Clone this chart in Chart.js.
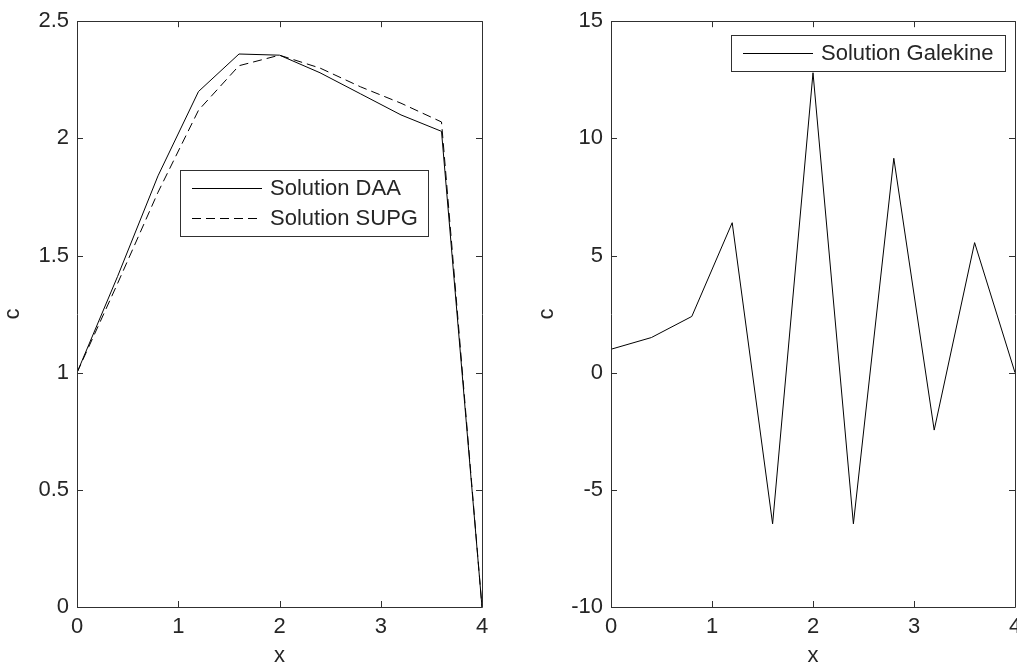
<!DOCTYPE html>
<html>
<head>
<meta charset="utf-8">
<script src="https://cdn.jsdelivr.net/npm/chart.js@4.4.1/dist/chart.umd.min.js"></script>
<style>
  html, body { margin: 0; padding: 0; background: #fff; overflow: hidden; }
  body { width: 1017px; height: 666px; position: relative; }
  canvas { position: absolute; top: 0; }
  #left { left: 0; }
  #right { left: 520px; }
</style>
</head>
<body>
<canvas id="left" width="500" height="666"></canvas>
<canvas id="right" width="520" height="666"></canvas>
<script>
// x grid shared by all three solutions
const xValues = [0, 0.4, 0.8, 1.2, 1.6, 2.0, 2.4, 2.8, 3.2, 3.6, 4.0];
const daa = [1.0, 1.41, 1.84, 2.20, 2.36, 2.355, 2.28, 2.19, 2.10, 2.03, 0.0];
const supg = [1.0, 1.38, 1.77, 2.12, 2.31, 2.355, 2.30, 2.22, 2.15, 2.07, 0.0];
const galerkin = [1.0, 1.5, 2.4, 6.4, -6.45, 12.8, -6.45, 9.15, -2.45, 5.55, 0.0];

const xTicks = [0, 1, 2, 3, 4];
const leftYTicks = [0, 0.5, 1, 1.5, 2, 2.5];
const rightYTicks = [-10, -5, 0, 5, 10, 15];

const textColor = '#262626';
const axisColor = '#303030';
const FONT = 'Liberation Sans, Arial, sans-serif';

const toPoints = (ys) => xValues.map((x, i) => ({ x, y: ys[i] }));

// matlab style box with inward ticks
const framePlugin = {
  id: 'frame',
  afterDraw(chart) {
    const { ctx, chartArea: a, scales } = chart;
    const len = 6;
    ctx.save();
    ctx.strokeStyle = axisColor;
    ctx.lineWidth = 1;
    ctx.beginPath();
    ctx.rect(Math.round(a.left) + 0.5, Math.round(a.top) + 0.5,
      Math.round(a.width), Math.round(a.height));
    scales.x.ticks.forEach((t) => {
      const px = Math.round(scales.x.getPixelForValue(t.value)) + 0.5;
      ctx.moveTo(px, a.bottom); ctx.lineTo(px, a.bottom - len);
      ctx.moveTo(px, a.top); ctx.lineTo(px, a.top + len);
    });
    scales.y.ticks.forEach((t) => {
      const py = Math.round(scales.y.getPixelForValue(t.value)) + 0.5;
      ctx.moveTo(a.left, py); ctx.lineTo(a.left + len, py);
      ctx.moveTo(a.right, py); ctx.lineTo(a.right - len, py);
    });
    ctx.stroke();
    ctx.restore();
  },
};

// boxed legend placed inside the plot
const boxLegend = {
  id: 'boxLegend',
  afterDraw(chart, args, opts) {
    const { ctx, chartArea: a } = chart;
    const sets = chart.data.datasets;
    const pad = 3;
    const rowH = 30;
    const x0 = a.left + opts.left;
    const y0 = a.top + opts.top;
    const h = sets.length * rowH + pad * 2;
    ctx.save();
    ctx.fillStyle = '#fff';
    ctx.fillRect(x0, y0, opts.width, h);
    ctx.strokeStyle = axisColor;
    ctx.lineWidth = 1;
    ctx.strokeRect(Math.round(x0) + 0.5, Math.round(y0) + 0.5, opts.width, h);
    ctx.font = `22px ${FONT}`;
    ctx.textBaseline = 'middle';
    sets.forEach((ds, i) => {
      const cy = Math.round(y0 + pad + rowH * i + rowH / 2) + 0.5;
      ctx.strokeStyle = ds.borderColor;
      ctx.setLineDash(ds.borderDash || []);
      ctx.beginPath();
      ctx.moveTo(x0 + 12, cy);
      ctx.lineTo(x0 + 82, cy);
      ctx.stroke();
      ctx.setLineDash([]);
      ctx.fillStyle = textColor;
      ctx.fillText(ds.label, x0 + 90, cy);
    });
    ctx.restore();
  },
};

function makeOptions(yMin, yMax, yTickList, yWidth, yTitlePad, legendPos, padRight) {
  return {
    responsive: false,
    animation: false,
    devicePixelRatio: 1,
    layout: { padding: { top: 18, right: padRight, bottom: 0, left: 0 } },
    plugins: {
      legend: { display: false },
      tooltip: { enabled: false },
      boxLegend: legendPos,
    },
    scales: {
      x: {
        type: 'linear',
        min: 0,
        max: 4,
        afterBuildTicks: (scale) => { scale.ticks = xTicks.map((v) => ({ value: v })); },
        afterFit: (scale) => { scale.height = 59; },
        grid: { display: false, drawTicks: false },
        border: { display: false },
        ticks: {
          color: textColor, padding: 7, maxRotation: 0,
          font: { family: FONT, size: 22 },
          callback: (v) => String(v),
        },
        title: { display: true, text: 'x', color: textColor, padding: { top: 0, bottom: -3 }, font: { family: FONT, size: 22 } },
      },
      y: {
        type: 'linear',
        min: yMin,
        max: yMax,
        afterBuildTicks: (scale) => { scale.ticks = yTickList.map((v) => ({ value: v })); },
        afterFit: (scale) => { scale.width = yWidth; },
        grid: { display: false, drawTicks: false },
        border: { display: false },
        ticks: {
          color: textColor, padding: 8,
          font: { family: FONT, size: 22 },
          callback: (v) => String(v),
        },
        title: { display: true, text: 'c', color: textColor, padding: { top: yTitlePad, bottom: 0 }, font: { family: FONT, size: 22 } },
      },
    },
  };
}

const lineStyle = {
  borderColor: '#000',
  borderWidth: 1,
  pointRadius: 0,
  tension: 0,
  fill: false,
};

new Chart(document.getElementById('left'), {
  type: 'line',
  data: {
    datasets: [
      { ...lineStyle, label: 'Solution DAA', data: toPoints(daa) },
      { ...lineStyle, label: 'Solution SUPG', data: toPoints(supg), borderDash: [9, 5] },
    ],
  },
  options: makeOptions(0, 2.5, leftYTicks, 77, 0, { left: 103, top: 149, width: 248 }, 18),
  plugins: [framePlugin, boxLegend],
});

new Chart(document.getElementById('right'), {
  type: 'line',
  data: {
    datasets: [
      { ...lineStyle, label: 'Solution Galekine', data: toPoints(galerkin) },
    ],
  },
  options: makeOptions(-10, 15, rightYTicks, 91, 14, { left: 120, top: 14, width: 274 }, 25),
  plugins: [framePlugin, boxLegend],
});
</script>
</body>
</html>
